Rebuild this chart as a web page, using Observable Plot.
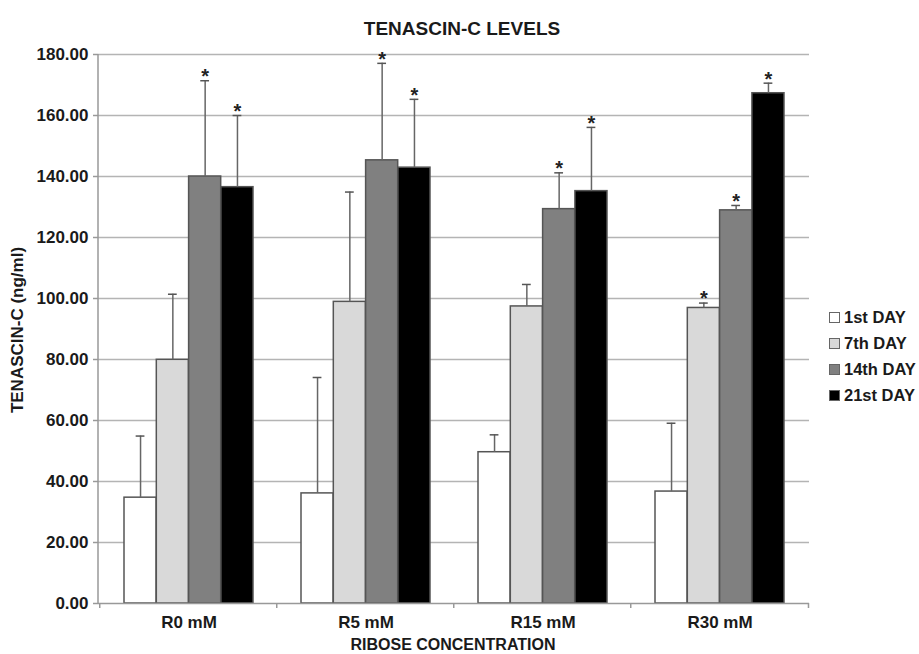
<!DOCTYPE html>
<html><head><meta charset="utf-8">
<script src="https://cdn.jsdelivr.net/npm/d3@7"></script>
<script src="https://cdn.jsdelivr.net/npm/@observablehq/plot@0.6"></script>
<style>
body{margin:0;background:#fff;}
#wrap{position:relative;width:919px;height:654px;font-family:"Liberation Sans",Arial,sans-serif;font-weight:bold;color:#1a1a1a;overflow:hidden;}
#wrap svg{position:absolute;left:0;top:0;}
.title{position:absolute;left:262px;width:400px;top:18px;text-align:center;font-size:19px;line-height:22px;}
.ylab{position:absolute;left:-132px;width:300px;top:320px;text-align:center;font-size:17px;line-height:20px;transform:rotate(-90deg);}
.xlab{position:absolute;left:253px;width:400px;top:635px;text-align:center;font-size:16px;line-height:20px;}
.legend{position:absolute;left:829px;top:304px;font-size:16.5px;}
.legend .row{height:26px;display:flex;align-items:center;}
.legend .sw{width:9px;height:9px;border:1.5px solid #666;margin-right:4px;box-sizing:content-box;}
[aria-label="y-axis tick"] path{stroke:#999;stroke-width:1.5;}
</style></head><body><div id="wrap"></div>
<script>
const groups = ["R0 mM", "R5 mM", "R15 mM", "R30 mM"];
const days = ["1st DAY", "7th DAY", "14th DAY", "21st DAY"];
const day1 = [34.7, 36.1, 49.6, 36.7];
const err1 = [20.2, 38.0, 5.7, 22.4];
const day7 = [79.9, 98.9, 97.4, 96.9];
const err7 = [21.5, 36.0, 7.2, 1.6];
const day14 = [140.0, 145.3, 129.3, 128.9];
const err14 = [31.4, 31.8, 11.9, 1.6];
const day21 = [136.5, 142.9, 135.2, 167.3];
const err21 = [23.5, 22.4, 20.9, 3.3];
const star1 = [0, 0, 0, 0];
const star7 = [0, 0, 0, 1];
const star14 = [1, 1, 1, 1];
const star21 = [1, 1, 1, 1];
const fills = ["#ffffff", "#d9d9d9", "#808080", "#000000"];
const yTicks = [0, 20, 40, 60, 80, 100, 120, 140, 160, 180];
const title = "TENASCIN-C LEVELS";
const yLabel = "TENASCIN-C (ng/ml)";
const xLabel = "RIBOSE CONCENTRATION";

const values = [day1, day7, day14, day21];
const errs = [err1, err7, err14, err21];
const stars = [star1, star7, star14, star21];
const rows = [];
days.forEach((d, i) => groups.forEach((g, j) => rows.push({group: g, day: d, di: i, value: values[i][j], err: errs[i][j], star: stars[i][j]})));

const W = 919, H = 654, mL = 98, mR = 110, mT = 54, mB = 51;
const pIn = 0.273, pOut = 0.1365;
const step = (W - mL - mR) / (groups.length - pIn + 2 * pOut);
const bw = step * (1 - pIn);
const n = days.length;
const w = bw / n;
const capHalf = 4.5;

const marks = [
  Plot.ruleY(yTicks.filter(t => t > 0), {stroke: "#b4b4b4", strokeWidth: 1.5})
];
days.forEach((d, i) => {
  const data = rows.filter(r => r.di === i);
  marks.push(Plot.barY(data, {x: "group", y: "value", fill: fills[i], stroke: "#555", strokeWidth: 1.5, insetLeft: i * w, insetRight: (n - 1 - i) * w}));
});
days.forEach((d, i) => {
  const data = rows.filter(r => r.di === i);
  const off = (i - (n - 1) / 2) * w;
  marks.push(Plot.ruleX(data, {x: "group", y1: "value", y2: r => r.value + r.err, dx: off, stroke: "#666", strokeWidth: 1.5}));
  marks.push(Plot.tickY(data, {x: "group", y: r => r.value + r.err, insetLeft: i * w + w / 2 - capHalf, insetRight: (n - 1 - i) * w + w / 2 - capHalf, stroke: "#555", strokeWidth: 1.5}));
  marks.push(Plot.text(data.filter(r => r.star), {x: "group", y: r => r.value + r.err, text: () => "*", dx: off, dy: -4, lineAnchor: "middle", fontSize: 20, fontWeight: "bold", fill: "#222"}));
});
marks.push(Plot.ruleY([0], {stroke: "#999", strokeWidth: 1.5}));

const plot = Plot.plot({
  width: W, height: H,
  marginLeft: mL, marginRight: mR, marginTop: mT, marginBottom: mB,
  style: {fontFamily: '"Liberation Sans", Arial, sans-serif', fontSize: "17px", fontWeight: "bold", color: "#1a1a1a", background: "transparent"},
  x: {domain: groups, paddingInner: pIn, paddingOuter: pOut, tickSize: 0, tickPadding: 12, label: null},
  y: {domain: [0, 180], ticks: yTicks, tickFormat: d => d.toFixed(2), tickSize: 5, tickPadding: 5, label: null},
  marks
});

const wrap = document.getElementById("wrap");
wrap.appendChild(plot);
const svg = d3.select(plot);
svg.append("line").attr("x1", mL).attr("x2", mL).attr("y1", mT).attr("y2", H - mB).attr("stroke", "#999").attr("stroke-width", 1.5);
const xs = plot.scale("x");
const bounds = groups.map(g => xs.apply(g) - step * pIn / 2).concat([xs.apply(groups[groups.length - 1]) + bw + step * pIn / 2]);
bounds.forEach(b => svg.append("line").attr("x1", b).attr("x2", b).attr("y1", H - mB).attr("y2", H - mB + 5).attr("stroke", "#999").attr("stroke-width", 1.5));

const t = document.createElement("div"); t.className = "title"; t.textContent = title; wrap.appendChild(t);
const yl = document.createElement("div"); yl.className = "ylab"; yl.textContent = yLabel; wrap.appendChild(yl);
const xl = document.createElement("div"); xl.className = "xlab"; xl.textContent = xLabel; wrap.appendChild(xl);
const lg = document.createElement("div"); lg.className = "legend";
days.forEach((d, i) => {
  const row = document.createElement("div"); row.className = "row";
  const sw = document.createElement("span"); sw.className = "sw"; sw.style.background = fills[i];
  const tx = document.createElement("span"); tx.textContent = d;
  row.appendChild(sw); row.appendChild(tx); lg.appendChild(row);
});
wrap.appendChild(lg);
</script>
</body></html>
